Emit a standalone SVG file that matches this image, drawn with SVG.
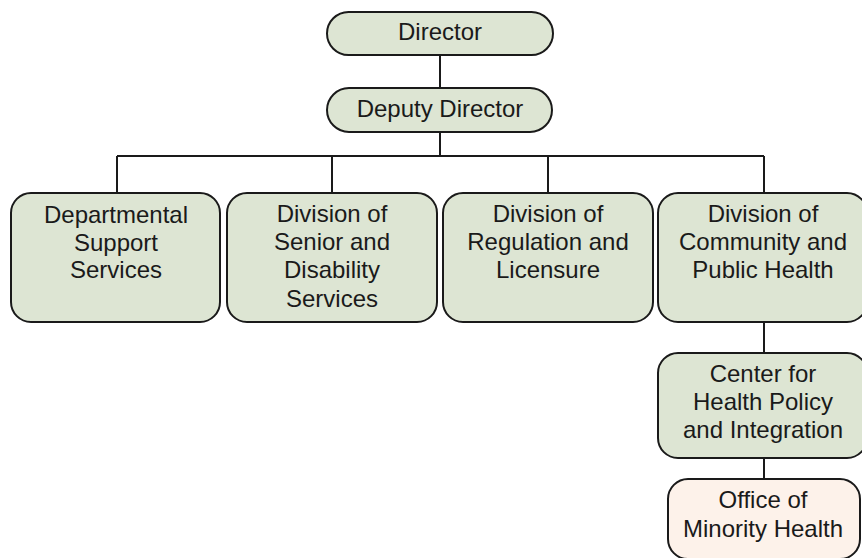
<svg xmlns="http://www.w3.org/2000/svg" width="862" height="558" viewBox="0 0 862 558">
<style>
.box{fill:#dde5d3;stroke:#1a1a1a;stroke-width:2}
.office{fill:#fdf2ea;stroke:#1a1a1a;stroke-width:2}
.t{font-family:"Liberation Sans",Arial,sans-serif;font-size:24px;fill:#1a1a1a;text-anchor:middle}
.c{stroke:#1a1a1a;stroke-width:2;fill:none}
</style>
<rect width="862" height="558" fill="#ffffff"/>
<g id="connectors">
<path class="c" d="M440 55V88M440 132V156M117 156H764M117 156V193M332 156V193M548 156V193M764 156V193M764 323V353M764 458V479"/>
</g>
<g id="director">
<rect class="box" x="327" y="12" width="226" height="43" rx="21.5"/>
<text class="t" x="440" y="40">Director</text>
</g>
<g id="deputy">
<rect class="box" x="327" y="88" width="225" height="44" rx="22"/>
<text class="t" x="440" y="117">Deputy Director</text>
</g>
<g id="support">
<rect class="box" x="11" y="193" width="209" height="129" rx="20"/>
<text class="t" x="116" y="223">Departmental</text>
<text class="t" x="116" y="251">Support</text>
<text class="t" x="116" y="278">Services</text>
</g>
<g id="senior">
<rect class="box" x="227" y="193" width="210" height="129" rx="20"/>
<text class="t" x="332" y="222">Division of</text>
<text class="t" x="332" y="250">Senior and</text>
<text class="t" x="332" y="278">Disability</text>
<text class="t" x="332" y="307">Services</text>
</g>
<g id="regulation">
<rect class="box" x="443" y="193" width="210" height="129" rx="20"/>
<text class="t" x="548" y="222">Division of</text>
<text class="t" x="548" y="250">Regulation and</text>
<text class="t" x="548" y="278">Licensure</text>
</g>
<g id="community">
<rect class="box" x="658" y="193" width="209" height="129" rx="20"/>
<text class="t" x="763" y="222">Division of</text>
<text class="t" x="763" y="250">Community and</text>
<text class="t" x="763" y="278">Public Health</text>
</g>
<g id="center">
<rect class="box" x="658" y="353" width="209" height="105" rx="20"/>
<text class="t" x="763" y="382">Center for</text>
<text class="t" x="763" y="410">Health Policy</text>
<text class="t" x="763" y="438">and Integration</text>
</g>
<g id="office">
<rect class="office" x="668" y="479" width="192" height="80" rx="20"/>
<text class="t" x="763" y="508">Office of</text>
<text class="t" x="763" y="537">Minority Health</text>
</g>
</svg>
